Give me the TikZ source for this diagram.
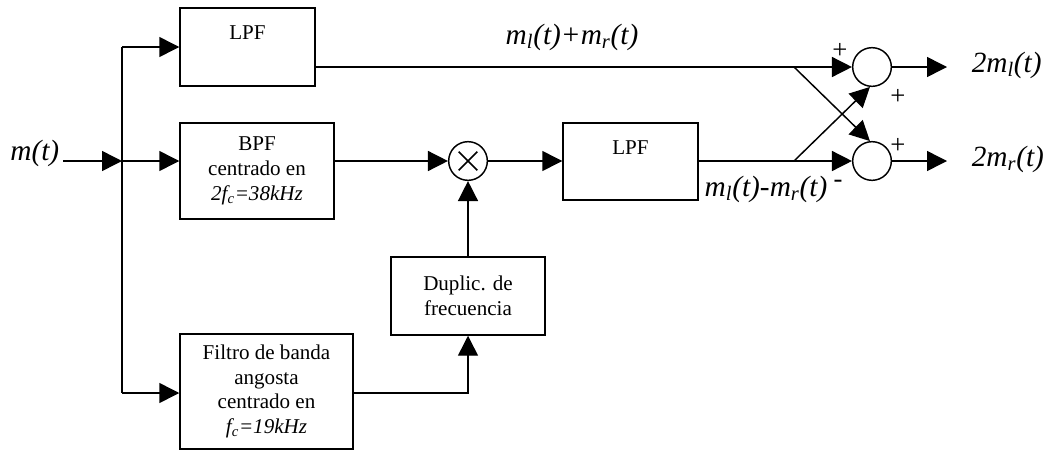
\documentclass[tikz,border=0pt]{standalone}
\usepackage{fontspec}
\setmainfont{Liberation Serif}
\usetikzlibrary{arrows.meta,calc}
\begin{document}
\begin{tikzpicture}[x=0.75pt,y=-0.75pt,
  line width=1.1pt,
  >={Triangle[length=15pt,width=15pt]},
  blk/.style={draw, rectangle, inner sep=0pt, align=center, font=\fontsize{15.8}{18.5}\selectfont},
  toplbl/.style={font=\fontsize{15.8}{18.5}\selectfont, inner sep=0pt, anchor=north, yshift=-13.5pt},
  sumc/.style={draw, circle, minimum size=29pt, inner sep=0pt},
  lbl/.style={font=\fontsize{22}{26}\selectfont\itshape, inner sep=0pt},
  sgn/.style={font=\fontsize{20}{24}\selectfont, inner sep=0pt}
]
\useasboundingbox (0,0) rectangle (1044,450);

% blocks
\node[blk, minimum width=101.25pt, minimum height=58.5pt,
      label={[toplbl]north:LPF}] (lpf1) at (247.5,47) {};
\node[blk, minimum width=115.5pt, minimum height=72pt] (bpf) at (257,171)
  {BPF\\centrado en\\{\itshape 2f\textsubscript{c}=38kHz}};
\node[blk, minimum width=101.25pt, minimum height=57.75pt,
      label={[toplbl]north:LPF}] (lpf2) at (630.5,161.5) {};
\node[blk, minimum width=115.5pt, minimum height=58.5pt] (dup) at (468,296)
  {Duplic. de\\frecuencia};
\node[blk, minimum width=129.75pt, minimum height=86.25pt] (fil) at (266.5,391.5)
  {Filtro de banda\\angosta\\centrado en\\{\itshape f\textsubscript{c}=19kHz}};

% multiplier and summers
\node[sumc, path picture={
  \draw (path picture bounding box.center) ++(-7pt,-7pt) -- ++(14pt,14pt);
  \draw (path picture bounding box.center) ++(-7pt,7pt) -- ++(14pt,-14pt);}] (mult) at (468,161) {};
\node[sumc] (sumU) at (872,67) {};
\node[sumc] (sumL) at (872,161) {};

% input
\node[lbl, anchor=base east] (min) at (60,160) {m(t)};
\coordinate (in) at (63,161);
\coordinate (bt) at (122,47);
\coordinate (j) at (122,161);
\coordinate (bb) at (122,393);
\draw[->] (in) -- (j);
\draw (bt) -- (bb);
\draw[->] (bt) -- (bt -| lpf1.west);
\draw[->] (j) -- (j -| bpf.west);
\draw[->] (bb) -- (bb -| fil.west);

% middle chain
\draw[->] (j -| bpf.east) -- (mult.west);
\draw[->] (mult.east) -- (mult -| lpf2.west);
\draw[->] (bb -| fil.east) -| (dup.south);
\draw[->] (dup.north) -- (mult.south);

% to summers
\draw[->] (lpf1.east |- sumU) -- (sumU.west);
\draw[->] (lpf2.east |- sumL) -- (sumL.west);
\coordinate (xU) at (794,67);
\coordinate (xL) at (794,161);
\draw[->] (xU) -- (sumL.96);
\draw[->] (xL) -- (sumU.-96);

% outputs
\coordinate (oU) at (947,67);
\coordinate (oL) at (947,161);
\draw[->] (sumU.east) -- (oU);
\draw[->] (sumL.east) -- (oL);
\node[lbl, anchor=west] (lU) at (971,65) {2m\textsubscript{l}(t)};
\node[lbl, anchor=west] (lL) at (971,159) {2m\textsubscript{r}(t)};

% signal labels
\node[lbl] (sp) at (572,37) {m\textsubscript{l}(t)+m\textsubscript{r}(t)};
\node[lbl, anchor=west] (sm) at (704,189) {m\textsubscript{l}(t)-m\textsubscript{r}(t)};

% signs
\node[sgn] (p1) at (840,51) {+};
\node[sgn] (p2) at (898,97) {+};
\node[sgn] (p3) at (898,146) {+};
\node[sgn] (m1) at (838,184) {-};
\end{tikzpicture}
\end{document}
